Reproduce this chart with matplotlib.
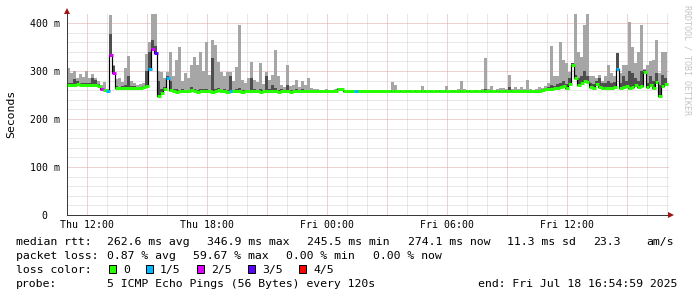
import numpy as np
import matplotlib
matplotlib.use("Agg")
import matplotlib.pyplot as plt
from matplotlib.patches import Rectangle

# ---------------- data ----------------
STEP_H = 0.15          # 9 minutes per sample, hours since Thu 11:00
X_END_H = 30.1         # right edge of the graph (hours since Thu 11:00)
Y_MAX = 418.75         # top of the graph in ms

median_ms = [
    271, 271, 271, 272, 271, 271, 270, 271, 271, 270,
    268, 262, 260, 258, 334, 296, 265, 264, 265, 265,
    265, 264, 265, 265, 265, 266, 268, 304, 345, 337,
    247, 255, 262, 285, 260, 258, 257, 258, 259, 258,
    258, 260, 258, 257, 258, 259, 258, 258, 257, 258,
    260, 258, 258, 257, 258, 258, 259, 258, 257, 258,
    258, 258, 259, 258, 257, 258, 258, 259, 258, 258,
    257, 258, 258, 258, 257, 258, 258, 258, 258, 258,
    258, 258, 258, 258, 258, 258, 258, 258, 258, 259,
    262, 262, 259, 258, 258, 258, 258, 258, 258, 258,
    258, 258, 258, 258, 258, 258, 258, 258, 258, 258,
    258, 258, 258, 258, 258, 258, 258, 258, 258, 258,
    258, 258, 258, 258, 258, 258, 258, 258, 258, 258,
    258, 258, 258, 258, 258, 258, 258, 258, 258, 258,
    258, 258, 258, 258, 258, 258, 258, 258, 258, 258,
    258, 258, 258, 258, 258, 258, 258, 258, 260, 262,
    262, 263, 264, 265, 266, 268, 265, 272, 312, 285,
    270, 275, 280, 278, 266, 265, 272, 266, 264, 265,
    264, 265, 266, 305, 265, 266, 268, 265, 267, 270,
    266, 268, 298, 266, 270, 265, 278, 247, 268, 272,
]

smoke_max_ms = [
    306, 296, 300, 285, 293, 288, 300, 285, 293, 286,
    280, 270, 277, 262, 417, 312, 284, 285, 277, 306,
    331, 280, 275, 270, 272, 275, 335, 360, 419, 419,
    300, 298, 285, 298, 340, 290, 323, 350, 280, 296,
    285, 312, 330, 312, 340, 300, 360, 292, 364, 354,
    318, 298, 290, 298, 298, 280, 308, 396, 282, 275,
    285, 319, 282, 278, 316, 272, 298, 282, 292, 344,
    290, 270, 266, 312, 268, 270, 281, 266, 280, 270,
    285, 265, 262, 262, 261, 261, 262, 261, 261, 262,
    265, 264, 261, 260, 260, 260, 260, 260, 260, 260,
    260, 260, 260, 260, 260, 260, 261, 261, 278, 270,
    260, 260, 260, 260, 261, 260, 260, 260, 269, 260,
    260, 260, 260, 261, 260, 260, 268, 260, 260, 260,
    263, 280, 262, 260, 260, 260, 261, 260, 262, 328,
    262, 268, 261, 262, 265, 265, 262, 292, 262, 266,
    262, 266, 262, 281, 262, 261, 262, 266, 264, 268,
    275, 352, 290, 290, 361, 323, 316, 298, 316, 419,
    340, 330, 396, 419, 290, 290, 285, 292, 280, 290,
    312, 295, 290, 337, 296, 312, 312, 403, 351, 316,
    340, 396, 305, 312, 320, 323, 365, 296, 340, 340,
]

smoke_mid_ms = [
    274, 274, 283, 280, 274, 274, 275, 274, 285, 282,
    272, 265, 263, 260, 378, 310, 268, 267, 268, 270,
    290, 268, 268, 267, 267, 269, 300, 340, 365, 352,
    280, 262, 266, 290, 280, 262, 262, 261, 262, 261,
    261, 266, 262, 260, 262, 263, 262, 261, 327, 262,
    264, 261, 262, 260, 290, 261, 262, 265, 261, 261,
    261, 285, 263, 261, 262, 261, 290, 262, 270, 265,
    261, 262, 261, 270, 261, 261, 262, 261, 262, 261,
    261, 260, 260, 260, 259, 259, 259, 259, 259, 260,
    263, 263, 260, 259, 259, 259, 259, 259, 259, 259,
    259, 259, 259, 259, 259, 259, 259, 259, 259, 259,
    259, 259, 259, 259, 259, 259, 259, 259, 259, 259,
    259, 259, 259, 259, 259, 259, 259, 259, 259, 259,
    259, 259, 259, 259, 259, 259, 259, 259, 259, 262,
    259, 259, 259, 259, 259, 259, 259, 266, 259, 259,
    259, 259, 259, 259, 259, 259, 259, 259, 261, 263,
    266, 270, 268, 272, 275, 280, 272, 285, 316, 292,
    285, 290, 300, 290, 275, 272, 280, 285, 274, 276,
    280, 275, 278, 337, 274, 290, 280, 300, 296, 285,
    280, 300, 302, 276, 290, 280, 295, 270, 292, 285,
]

loss_count = [
    0, 0, 0, 0, 0, 0, 0, 0, 0, 0,
    0, 2, 0, 1, 2, 2, 0, 0, 0, 0,
    0, 0, 0, 0, 0, 0, 0, 1, 2, 3,
    0, 0, 0, 1, 0, 0, 0, 0, 0, 0,
    0, 0, 0, 0, 0, 0, 0, 0, 0, 0,
    0, 0, 0, 0, 1, 0, 0, 0, 0, 0,
    0, 0, 0, 0, 0, 0, 0, 0, 0, 0,
    0, 0, 0, 0, 0, 0, 0, 0, 0, 0,
    0, 0, 0, 0, 0, 0, 0, 0, 0, 0,
    0, 0, 0, 0, 0, 0, 1, 0, 0, 0,
    0, 0, 0, 0, 0, 0, 0, 0, 0, 0,
    0, 0, 0, 0, 0, 0, 0, 0, 0, 0,
    0, 0, 0, 0, 0, 0, 0, 0, 0, 0,
    0, 0, 0, 0, 0, 0, 0, 0, 0, 0,
    0, 0, 0, 0, 0, 0, 0, 0, 0, 0,
    0, 0, 0, 0, 0, 0, 0, 0, 0, 0,
    0, 0, 0, 0, 0, 0, 0, 0, 0, 0,
    0, 0, 0, 0, 0, 0, 0, 0, 0, 0,
    0, 0, 0, 1, 0, 0, 0, 0, 0, 0,
    0, 0, 0, 0, 0, 0, 0, 0, 0, 0,
]

loss_colors = ['#26ff00', '#00b8ff', '#dd00ff', '#5e00ff', '#ff0000']
loss_labels = ['0', '1/5', '2/5', '3/5', '4/5']

xtick_hours = [1, 7, 13, 19, 25]
xtick_labels = ['Thu 12:00', 'Thu 18:00', 'Fri 00:00', 'Fri 06:00', 'Fri 12:00']
ytick_vals = [0, 100, 200, 300, 400]
ytick_labels = ['0', '100 m', '200 m', '300 m', '400 m']

rtt_stats = ['262.6 ms avg', '346.9 ms max', '245.5 ms min', '274.1 ms now',
             '11.3 ms sd', '23.3', 'am/s']
loss_stats = ['0.87 % avg', '59.67 % max', '0.00 % min', '0.00 % now']
probe_text = '5 ICMP Echo Pings (56 Bytes) every 120s'
end_text = 'end: Fri Jul 18 16:54:59 2025'

# ---------------- figure ----------------
W, H, DPI = 697, 297, 100
MONO = 'DejaVu Sans Mono'
fig = plt.figure(figsize=(W / DPI, H / DPI), dpi=DPI)
fig.patch.set_facecolor('white')


def fx(px):
    return px / W


def fy(py):
    return 1 - py / H


def pt(px):
    return px * 72.0 / DPI


ax = fig.add_axes([fx(67), fy(215), fx(669) - fx(67), fy(14) - fy(215)])
ax.set_xlim(0, X_END_H)
ax.set_ylim(0, Y_MAX)
ax.set_facecolor('white')

# grid
minor_col = '#d2d2d2'
major_col = '#d9a8a8'
dots = (0, (1, 1))
hours = np.arange(1, X_END_H, 1.0)
for h in hours:
    major = (int(round(h)) - 1) % 3 == 0
    ax.axvline(h, color=major_col if major else minor_col, lw=pt(1),
               ls=dots, zorder=0)
for v in np.arange(20, Y_MAX, 20):
    major = int(round(v)) % 100 == 0
    ax.axhline(v, color=major_col if major else minor_col, lw=pt(1),
               ls=dots, zorder=0)

med = np.asarray(median_ms, float)
hi = np.asarray(smoke_max_ms, float)
mid = np.asarray(smoke_mid_ms, float)
n = len(med)
xe = np.arange(n + 1) * STEP_H
px_h = X_END_H / 602.0   # one pixel in hours

ax.fill_between(xe, np.r_[med, med[-1]], np.r_[hi, hi[-1]], step='post',
                color='#a6a6a6', lw=0, zorder=1)
ax.fill_between(xe, np.r_[med, med[-1]], np.r_[mid, mid[-1]], step='post',
                color='#4e4e4e', lw=0, zorder=2)
ax.step(xe, np.r_[med, med[-1]], where='post', color='#000000', lw=pt(1.2),
        zorder=3)
ax.hlines(med, xe[:-1] - 0.5 * px_h, xe[1:] + 0.5 * px_h,
          colors=[loss_colors[l] for l in loss_count],
          lw=pt(3), zorder=4, capstyle='butt')

# axes
for s in ['top', 'right']:
    ax.spines[s].set_visible(False)
for s in ['left', 'bottom']:
    ax.spines[s].set_color('#3a3a3a')
    ax.spines[s].set_linewidth(pt(1))
ax.spines['bottom'].set_zorder(5)
arrow_col = '#9e1515'
ax.plot([0], [1 + 2.7 / 201], marker='^', markersize=pt(6), color=arrow_col,
        transform=ax.transAxes, clip_on=False, zorder=6, mew=0)
ax.plot([1 + 2 / 602], [0], marker='>', markersize=pt(6), color=arrow_col,
        transform=ax.transAxes, clip_on=False, zorder=6, mew=0)

ax.set_xticks(xtick_hours, xtick_labels)
ax.set_yticks(ytick_vals, ytick_labels)
ax.tick_params(axis='both', length=0, labelsize=7.1, labelcolor='#000000')
ax.tick_params(axis='x', pad=pt(5))
ax.tick_params(axis='y', pad=pt(7.3))
for lab in ax.get_xticklabels() + ax.get_yticklabels():
    lab.set_fontfamily(MONO)
ax.yaxis.get_major_ticks()[0].set_pad(pt(7.3 + 2 * 5.93))

fig.text(fx(11), fy(113.5), 'Seconds', rotation=90, ha='center', va='center',
         fontsize=8.25, family=MONO, color='#000000')
fig.text(fx(687.5), fy(5), 'RRDTOOL / TOBI OETIKER', rotation=270,
         ha='center', va='top', fontsize=6, family=MONO, color='#c4c4c4')

# legend
FS = 8.25


def t(px, py, s):
    fig.text(fx(px), fy(py), s, fontsize=FS, family=MONO, ha='left',
             va='baseline', color='#000000')


t(16, 245.3, 'median rtt:')
for xpos, s in zip([107.3, 207.3, 307.3, 407.7, 506.7, 593.3, 646.7], rtt_stats):
    t(xpos, 245.3, s)
t(16, 259.3, 'packet loss:')
for xpos, s in zip([107.3, 193.3, 286, 372.7], loss_stats):
    t(xpos, 259.3, s)
t(16, 273.3, 'loss color:')
for xpos, c, s in zip([109, 145.7, 197.3, 247.7, 298.7], loss_colors, loss_labels):
    fig.add_artist(Rectangle((fx(xpos), fy(273.3)), fx(7), 8 / H,
                             transform=fig.transFigure, facecolor=c,
                             edgecolor='#000000', lw=pt(1)))
    t(xpos + 14.3, 273.3, s)
t(16, 287.3, 'probe:')
t(107.3, 287.3, probe_text)
t(478.3, 287.3, end_text)

fig.savefig('out.png', dpi=DPI, facecolor='white')
